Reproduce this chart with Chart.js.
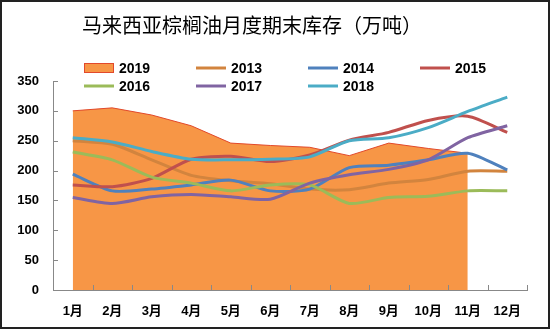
<!DOCTYPE html>
<html>
<head>
<meta charset="utf-8">
<script src="https://cdn.jsdelivr.net/npm/chart.js@4/dist/chart.umd.min.js"></script>
<style>
  html, body { margin: 0; padding: 0; background: #fff; }
</style>
</head>
<body>
<canvas id="chart" width="550" height="329"></canvas>
<script>
const months = ['1月', '2月', '3月', '4月', '5月', '6月', '7月', '8月', '9月', '10月', '11月', '12月']
const yTicks = [0, 50, 100, 150, 200, 250, 300, 350]

const s2019 = [300, 305, 293, 275, 246, 242, 239, 225, 246, 237, 229, null]
const s2013 = [250, 244, 218, 192, 183, 178, 169, 168, 179, 185, 199, 199]
const s2014 = [194, 166, 169, 176, 184, 166, 169, 205, 209, 218, 229, 201]
const s2015 = [176, 173, 187, 219, 224, 215, 226, 251, 264, 284, 291, 264]
const s2016 = [231, 218, 189, 179, 166, 176, 176, 145, 155, 157, 166, 166]
const s2017 = [155, 145, 156, 160, 156, 152, 179, 193, 202, 218, 255, 275]
const s2018 = [255, 248, 232, 219, 218, 219, 223, 250, 255, 272, 299, 323]

const title = '马来西亚棕榈油月度期末库存（万吨）'
const numFont = '"Liberation Sans", "Noto Sans CJK SC", sans-serif'

function line(label, data, color, order) {
    return {
        label: label,
        data: data,
        borderColor: color,
        backgroundColor: color,
        borderWidth: 3,
        pointRadius: 0,
        tension: 0.25,
        fill: false,
        order: order
    }
}

// title, legend, tick marks and frame, drawn by hand like the excel original
const decor = {
    id: 'decor',
    beforeDraw(chart) {
        const ctx = chart.ctx
        ctx.save()
        ctx.fillStyle = '#fff'
        ctx.fillRect(0, 0, chart.width, chart.height)
        ctx.restore()
    },
    afterDraw(chart) {
        const ctx = chart.ctx
        const xs = chart.scales.x
        const ys = chart.scales.y
        ctx.save()

        ctx.fillStyle = '#000'
        ctx.font = '20px "Noto Sans CJK SC", sans-serif'
        ctx.textAlign = 'center'
        ctx.textBaseline = 'middle'
        ctx.fillText(title, 252, 25)

        // legend: 4 columns, 2 rows
        const sets = chart.data.datasets
        ctx.font = 'bold 14px ' + numFont
        ctx.textAlign = 'left'
        sets.forEach((ds, i) => {
            const col = i % 4
            const row = Math.floor(i / 4)
            const bx = 84 + col * 112
            const by = 68 + row * 18
            if (ds.fill) {
                ctx.fillStyle = ds.backgroundColor
                ctx.fillRect(bx, by - 5, 30, 10)
                ctx.strokeStyle = ds.borderColor
                ctx.lineWidth = 1
                ctx.strokeRect(bx + 0.5, by - 4.5, 29, 9)
            } else {
                ctx.strokeStyle = ds.borderColor
                ctx.lineWidth = 3
                ctx.beginPath()
                ctx.moveTo(bx, by)
                ctx.lineTo(bx + 30, by)
                ctx.stroke()
            }
            ctx.fillStyle = '#000'
            ctx.fillText(ds.label, bx + 35, by + 1)
        })

        // inside tick marks
        ctx.strokeStyle = '#888'
        ctx.lineWidth = 1
        const step = xs.getPixelForValue(1) - xs.getPixelForValue(0)
        ctx.beginPath()
        for (let i = 0; i <= months.length; i++) {
            const x = Math.round(xs.getPixelForValue(i) - step / 2) + 0.5
            ctx.moveTo(x, ys.bottom)
            ctx.lineTo(x, ys.bottom - 5)
        }
        yTicks.forEach(v => {
            const y = Math.round(ys.getPixelForValue(v)) + 0.5
            ctx.moveTo(xs.left, y)
            ctx.lineTo(xs.left + 5, y)
        })
        ctx.stroke()

        ctx.strokeStyle = '#222'
        ctx.lineWidth = 2
        ctx.strokeRect(1, 1, chart.width - 2, chart.height - 2)
        ctx.restore()
    }
}

new Chart(document.querySelector('#chart'), {
    type: 'line',
    data: {
        labels: months,
        datasets: [
            {
                label: '2019',
                data: s2019,
                borderColor: '#E2492B',
                backgroundColor: '#F79646',
                borderWidth: 1,
                pointRadius: 0,
                tension: 0,
                fill: 'origin',
                order: 9
            },
            line('2013', s2013, '#D2843E', 7),
            line('2014', s2014, '#4F81BD', 6),
            line('2015', s2015, '#C0504D', 5),
            line('2016', s2016, '#9BBB59', 4),
            line('2017', s2017, '#8064A2', 3),
            line('2018', s2018, '#4BACC6', 2)
        ]
    },
    options: {
        responsive: false,
        animation: false,
        layout: {
            padding: { top: 81, right: 23, left: 0, bottom: 0 }
        },
        plugins: {
            legend: { display: false },
            title: { display: false },
            tooltip: { enabled: false }
        },
        scales: {
            x: {
                offset: true,
                grid: { display: false, drawTicks: false },
                border: { color: '#888', width: 1 },
                ticks: {
                    color: '#000',
                    padding: 14,
                    maxRotation: 0,
                    autoSkip: false,
                    font: { family: numFont, size: 13, weight: 'bold' }
                },
                afterFit(scale) { scale.height = 39 }
            },
            y: {
                min: 0,
                max: 350,
                afterBuildTicks(scale) { scale.ticks = yTicks.map(v => ({ value: v })) },
                grid: { display: false, drawTicks: false },
                border: { color: '#888', width: 1 },
                ticks: {
                    color: '#000',
                    padding: 14,
                    font: { family: numFont, size: 13, weight: 'bold' }
                },
                afterFit(scale) { scale.width = 53 }
            }
        }
    },
    plugins: [decor]
})
</script>
</body>
</html>
